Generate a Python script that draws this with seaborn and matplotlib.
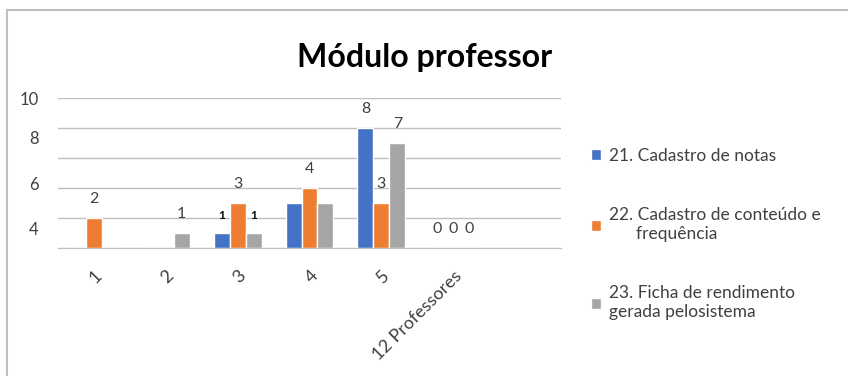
import pandas as pd
import numpy as np
import matplotlib
matplotlib.use('Agg')
import matplotlib.pyplot as plt
import seaborn as sns

# --- data ---
categories = ['1', '2', '3', '4', '5', '12 Professores', ' ']
series = ['21. Cadastro de notas',
          '22. Cadastro de conteúdo e\n      frequência',
          '23. Ficha de rendimento\ngerada pelosistema']
notas = [0, 0, 1, 3, 8, 0]
conteudo = [2, 0, 3, 4, 3, 0]
ficha = [0, 1, 1, 3, 7, 0]

# data labels as shown on the chart ('' = not shown)
labels_notas = ['', '', '1', '', '8', '0']
labels_conteudo = ['2', '', '3', '4', '3', '0']
labels_ficha = ['', '1', '1', '', '7', '0']

# y tick labels as printed (they sit off the gridlines in the original)
ytick_pos = [1.33, 4.33, 7.4, 10]
ytick_text = ['4', '6', '8', '10']

colors = ['#4472C4', '#ED7D31', '#A5A5A5']

# --- build long table ---
rows = []
for name, vals in zip(series, [notas, conteudo, ficha]):
    for cat, v in zip(categories[:-1], vals):
        rows.append({'cat': cat, 'serie': name, 'valor': v})
df = pd.DataFrame(rows)

sns.set_style('white')
plt.rcParams['font.family'] = ['Lato', 'DejaVu Sans']

fig = plt.figure(figsize=(8.48, 3.76), dpi=100)
ax = fig.add_axes([58 / 848, 1 - 248.3 / 376, 503 / 848, 150 / 376])

sns.barplot(data=df, x='cat', y='valor', hue='serie', order=categories,
            hue_order=series, palette=colors, width=0.667, gap=0,
            saturation=1, ax=ax, legend=True, err_kws={'linewidth': 0})

ax.set_ylim(0, 10)
ax.set_xlim(-0.5, len(categories) - 0.5)
ax.set_xlabel('')
ax.set_ylabel('')

# gridlines on minor ticks, labels on major ticks
grid_col = '#BFBFBF'
ax.yaxis.remove_overlapping_locs = False
ax.set_yticks(np.arange(0, 11, 2), minor=True)
ax.set_yticks(ytick_pos)
ax.set_yticklabels(ytick_text, fontsize=12, color='#404040')
ax.yaxis.grid(True, which='minor', color=grid_col, linewidth=1)
ax.yaxis.grid(False, which='major')
ax.tick_params(axis='y', which='major', length=0, pad=14)
ax.tick_params(axis='y', which='minor', length=4, color=grid_col, width=1)
for gl in ax.yaxis.get_minorticklines() + ax.get_ygridlines():
    gl.set_clip_on(False)

ax.set_xticks(np.arange(len(categories)))
ax.set_xticklabels(categories, rotation=45, ha='right', rotation_mode='anchor',
                   fontsize=13, color='#404040')
ax.set_xticks(np.arange(-0.5, len(categories), 1), minor=True)
ax.tick_params(axis='x', which='major', length=0, pad=14)
ax.tick_params(axis='x', which='minor', length=6, color=grid_col, width=1)

for s in ['top', 'right', 'left']:
    ax.spines[s].set_visible(False)
ax.spines['bottom'].set_color(grid_col)

# data labels
for cont, labs in zip(ax.containers, [labels_notas, labels_conteudo, labels_ficha]):
    texts = ax.bar_label(cont, labels=labs + [''] * (len(cont) - len(labs)),
                         padding=9, fontsize=11.5, color='#404040')
    if cont is not ax.containers[1]:
        # the small bold "1" labels in category 3
        texts[2].set_fontsize(8.5)
        texts[2].set_fontweight('bold')
        texts[2].set_color('black')

fig.text(425 / 848, 1 - 57 / 376, 'Módulo professor', fontsize=23,
         fontweight='bold', ha='center', va='center', color='black')

# legend on the right
leg = ax.legend(loc='upper left', bbox_to_anchor=(584 / 848, 1 - 141 / 376),
                bbox_transform=fig.transFigure, frameon=False, fontsize=12.5,
                handlelength=0.6, handleheight=0.6, handletextpad=0.45,
                labelspacing=2.5, labelcolor='#404040', borderaxespad=0)

# page border
fig.patches.append(plt.Rectangle((6.5 / 848, -0.1), 1.2, 1 - 10 / 376 + 0.1,
                                 transform=fig.transFigure, fill=False,
                                 edgecolor='#BFBFBF', linewidth=1.5))

fig.savefig('out.png', dpi=100)
